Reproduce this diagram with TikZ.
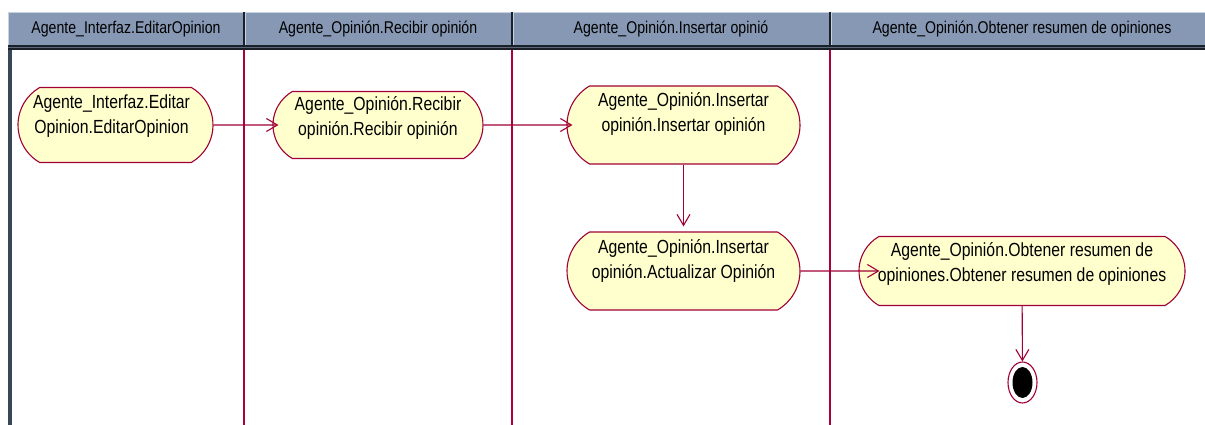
\documentclass[tikz,border=0pt]{standalone}
\usepackage{fontspec}
\usetikzlibrary{arrows.meta,shapes.misc,shapes.geometric}
\newfontfamily\lanefont[FakeStretch=0.83]{Liberation Sans}
\definecolor{laneline}{RGB}{170,0,60}
\definecolor{actfill}{RGB}{255,255,206}
\definecolor{actdraw}{RGB}{160,0,55}
\definecolor{headfill}{RGB}{134,152,180}
\definecolor{headlight}{RGB}{200,210,225}
\definecolor{headdark}{RGB}{26,32,42}
\definecolor{headmid}{RGB}{92,104,122}
\definecolor{frameside}{RGB}{56,70,90}
\begin{document}
\begin{tikzpicture}[x=1pt,y=-1pt,
  act/.style={rounded rectangle, rounded rectangle arc length=120,
    draw=actdraw, fill=actfill, line width=1.1pt, inner sep=0pt},
  acttext/.style={font=\lanefont\fontsize{19}{25.5}\selectfont, align=center,
    inner sep=0pt, text=black},
  headtext/.style={font=\lanefont\fontsize{17}{20}\selectfont, inner sep=0pt},
  flow/.style={draw=actdraw, line width=1.1pt,
    -{Straight Barb[length=11pt,width=13pt,line width=1.1pt]}},
  lane/.style={draw=laneline, line width=1.3pt},
  headsep/.style={draw=headdark, line width=1.6pt}
]
\useasboundingbox (0,0) rectangle (1205,425);
\fill[white] (0,0) rectangle (1205,425);

% swimlane header bar
\fill[headfill] (8,12) rectangle (1205,46);
\draw[headlight, line width=1pt] (8,12.5) -- (1205,12.5);
\draw[headlight, line width=1pt] (8.5,12) -- (8.5,46);
\fill[headdark] (8,45.5) rectangle (1205,47.5);
\fill[headmid] (8,47.5) rectangle (1205,48.5);
\fill[headdark] (8,48.5) rectangle (1205,50.5);
\fill[frameside] (8,50.5) rectangle (12,425);

% header separators
\foreach \x in {244,512,830} {
  \draw[headsep] (\x,12) -- (\x,45.5);
  \draw[headlight, line width=0.8pt] (\x+1.6,12) -- (\x+1.6,45.5);
}

% header titles
\node[headtext] (h1) at (126,29.5) {Agente\_Interfaz.EditarOpinion};
\node[headtext] (h2) at (378,29.5) {Agente\_Opinión.Recibir opinión};
\node[headtext] (h3) at (671,29.5) {Agente\_Opinión.Insertar opinió};
\node[headtext] (h4) at (1022,29.5) {Agente\_Opinión.Obtener resumen de opiniones};

% lane separators
\foreach \x in {244,512,830} {
  \draw[lane] (\x,50.5) -- (\x,425);
}

% activities
\node[act, minimum width=195pt, minimum height=75pt] (a1) at (115.5,125) {};
\node[acttext] (a1t) at ([xshift=-4pt,yshift=9pt]a1.center)
  {Agente\_Interfaz.Editar\\Opinion.EditarOpinion};

\node[act, minimum width=210pt, minimum height=67pt] (a2) at (378,125) {};
\node[acttext] (a2t) at ([yshift=7pt]a2.center)
  {Agente\_Opinión.Recibir\\opinión.Recibir opinión};

\node[act, minimum width=233pt, minimum height=78pt] (a3) at (683.5,125) {};
\node[acttext] (a3t) at ([yshift=11pt]a3.center)
  {Agente\_Opinión.Insertar\\opinión.Insertar opinión};

\node[act, minimum width=233pt, minimum height=78pt] (a4) at (683.5,271) {};
\node[acttext] (a4t) at ([yshift=10pt]a4.center)
  {Agente\_Opinión.Insertar\\opinión.Actualizar Opinión};

\node[act, minimum width=326pt, minimum height=69pt] (a5) at (1022,271) {};
\node[acttext] (a5t) at ([yshift=7pt]a5.center)
  {Agente\_Opinión.Obtener resumen de\\opiniones.Obtener resumen de opiniones};

% final state
\node[ellipse, draw=actdraw, fill=white, line width=1.1pt, inner sep=0pt,
  minimum width=29pt, minimum height=41pt] (end) at (1022.5,382.5) {};
\node[ellipse, fill=black, inner sep=0pt,
  minimum width=20pt, minimum height=31pt] (endin) at (end.center) {};

% transitions
\draw[flow, shorten >=-6pt] (a1) -- (a2);
\draw[flow, shorten >=-6pt] (a2) -- (a3);
\draw[flow, shorten >=5pt] (a3) -- (a4);
\draw[flow, shorten >=-21pt] (a4) -- (a5);
\draw[flow] (a5) -- (end);
\end{tikzpicture}
\end{document}
